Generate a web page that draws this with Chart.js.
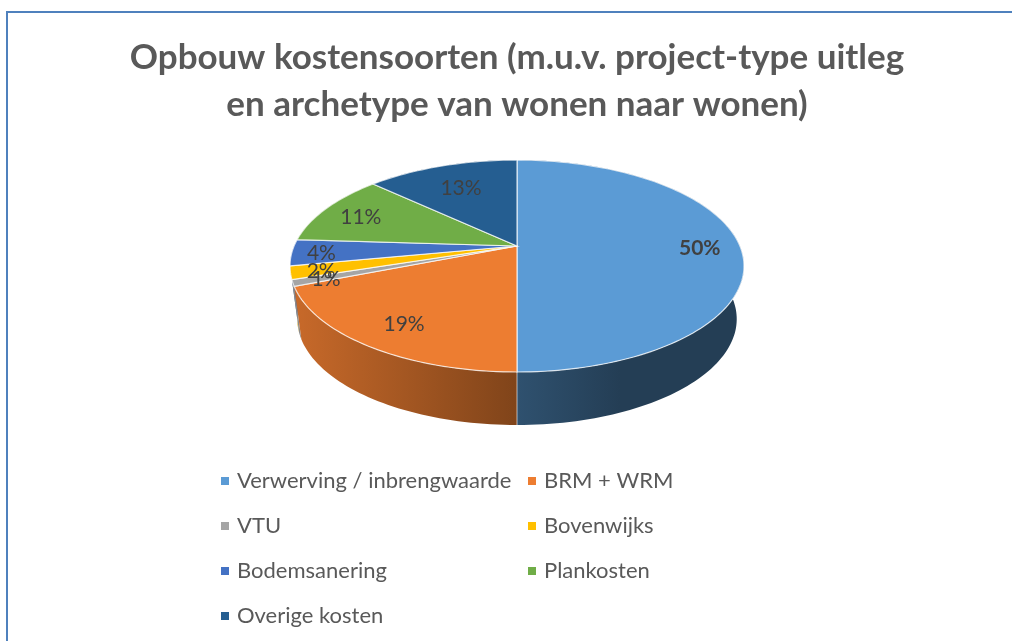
<!DOCTYPE html>
<html>
<head>
<meta charset="utf-8">
<style>
  body { margin: 0; background: #fff; }
  #frame { position: absolute; left: 6px; top: 11px; right: 0; bottom: 0; border-left: 2px solid #4f81bd; border-top: 2px solid #4f81bd; }
  #grafiek { position: absolute; left: 0; top: 0; }
</style>
<script src="https://cdn.jsdelivr.net/npm/chart.js@4"></script>
</head>
<body>
<div id="frame"></div>
<canvas id="grafiek" width="1012" height="641"></canvas>
<script>
const titel = ['Opbouw kostensoorten (m.u.v. project-type uitleg', 'en archetype van wonen naar wonen)'];
const kostensoorten = ['Verwerving / inbrengwaarde', 'BRM + WRM', 'VTU', 'Bovenwijks', 'Bodemsanering', 'Plankosten', 'Overige kosten'];
const percentages = [50, 19, 1, 2, 4, 11, 13];
const kleuren = ['#5b9bd5', '#ed7d31', '#a5a5a5', '#ffc000', '#4472c4', '#70ad47', '#255e91'];

// how far out along its slice each label sits (0 = centre, 1 = rim)
const labelAfstand = [0.82, 0.79, 0.86, 0.87, 0.87, 0.81, 0.71];

// perspective of the tilted disc
const midX = 517, midY = 246, straal = 222.9, diepte = 102.2, kanteling = 0.189;
const dikte = 53, krimp = 0.968;

function projecteer(hoek, r, onder) {
    const u = Math.cos(hoek) * r, v = Math.sin(hoek) * r;
    const d = 1 - kanteling * v;
    return {
        x: midX + (onder ? krimp : 1) * straal * u / d,
        y: midY + (onder ? dikte : 0) + diepte * v / d
    };
}

function donkerder(hex, f) {
    const n = parseInt(hex.slice(1), 16);
    return `rgb(${Math.round((n >> 16) * f)},${Math.round(((n >> 8) & 255) * f)},${Math.round((n & 255) * f)})`;
}

function rand(ctx, a0, a1, onder, omgekeerd) {
    const stappen = Math.max(4, Math.ceil(Math.abs(a1 - a0) * 40));
    for (let i = 0; i <= stappen; i++) {
        const t = omgekeerd ? 1 - i / stappen : i / stappen;
        const p = projecteer(a0 + (a1 - a0) * t, 1, onder);
        ctx.lineTo(p.x, p.y);
    }
}

const pie3d = {
    id: 'pie3d',
    beforeDatasetsDraw(chart) {
        const ctx = chart.ctx;
        const arcs = chart.getDatasetMeta(0).data;

        // side walls, back to front
        for (let i = arcs.length - 1; i >= 0; i--) {
            const a = arcs[i], kleur = kleuren[i];
            const g = ctx.createLinearGradient(290, 0, 620, 0);
            g.addColorStop(0, donkerder(kleur, 0.85));
            g.addColorStop(0.688, donkerder(kleur, 0.54));
            g.addColorStop(0.69, donkerder(kleur, 0.52));
            g.addColorStop(1, donkerder(kleur, 0.4));
            ctx.beginPath();
            rand(ctx, a.startAngle, a.endAngle, false, false);
            rand(ctx, a.startAngle, a.endAngle, true, true);
            ctx.closePath();
            ctx.fillStyle = g;
            ctx.fill();
        }
        // seam between the two front walls
        const naad = arcs[0].endAngle;
        const p0 = projecteer(naad, 1, false), p1 = projecteer(naad, 1, true);
        ctx.beginPath();
        ctx.moveTo(p0.x, p0.y);
        ctx.lineTo(p1.x, p1.y);
        ctx.strokeStyle = 'rgba(255,255,255,0.6)';
        ctx.lineWidth = 1;
        ctx.stroke();

        // top face
        arcs.forEach((a, i) => {
            ctx.beginPath();
            ctx.moveTo(midX, midY);
            rand(ctx, a.startAngle, a.endAngle, false, false);
            ctx.closePath();
            ctx.fillStyle = kleuren[i];
            ctx.fill();
            ctx.strokeStyle = 'rgba(255,255,255,0.75)';
            ctx.lineWidth = 1.2;
            ctx.stroke();
        });
        return false;
    },
    beforeDatasetDraw() {
        return false;
    },
    afterDraw(chart) {
        const ctx = chart.ctx;
        const arcs = chart.getDatasetMeta(0).data;

        // percentage labels
        ctx.textAlign = 'center';
        ctx.textBaseline = 'middle';
        ctx.fillStyle = '#404040';
        arcs.forEach((a, i) => {
            const p = projecteer((a.startAngle + a.endAngle) / 2, labelAfstand[i], false);
            ctx.font = (i === 0 ? 'bold ' : '') + '21px Lato';
            ctx.fillText(percentages[i] + '%', p.x, p.y + 2);
        });

        // legend in two columns
        ctx.textAlign = 'left';
        ctx.font = '22px Lato';
        kostensoorten.forEach((naam, i) => {
            const x = i % 2 ? 527 : 220;
            const y = 481 + Math.floor(i / 2) * 45;
            ctx.fillStyle = kleuren[i];
            ctx.fillRect(x + 1, y - 4, 8, 8);
            ctx.fillStyle = '#595959';
            ctx.fillText(naam, x + 17, y);
        });
    }
};

new Chart(document.getElementById('grafiek'), {
    type: 'pie',
    data: {
        labels: kostensoorten,
        datasets: [{ data: percentages, backgroundColor: kleuren }]
    },
    options: {
        responsive: false,
        animation: false,
        layout: { padding: { left: 22 } },
        plugins: {
            legend: { display: false },
            tooltip: { enabled: false },
            title: {
                display: true,
                fullSize: false,
                text: titel,
                color: '#595959',
                font: { family: 'Lato', size: 35, weight: 'bold', lineHeight: 1.34 },
                padding: { top: 34, bottom: 0 }
            }
        }
    },
    plugins: [pie3d]
});
</script>
</body>
</html>
